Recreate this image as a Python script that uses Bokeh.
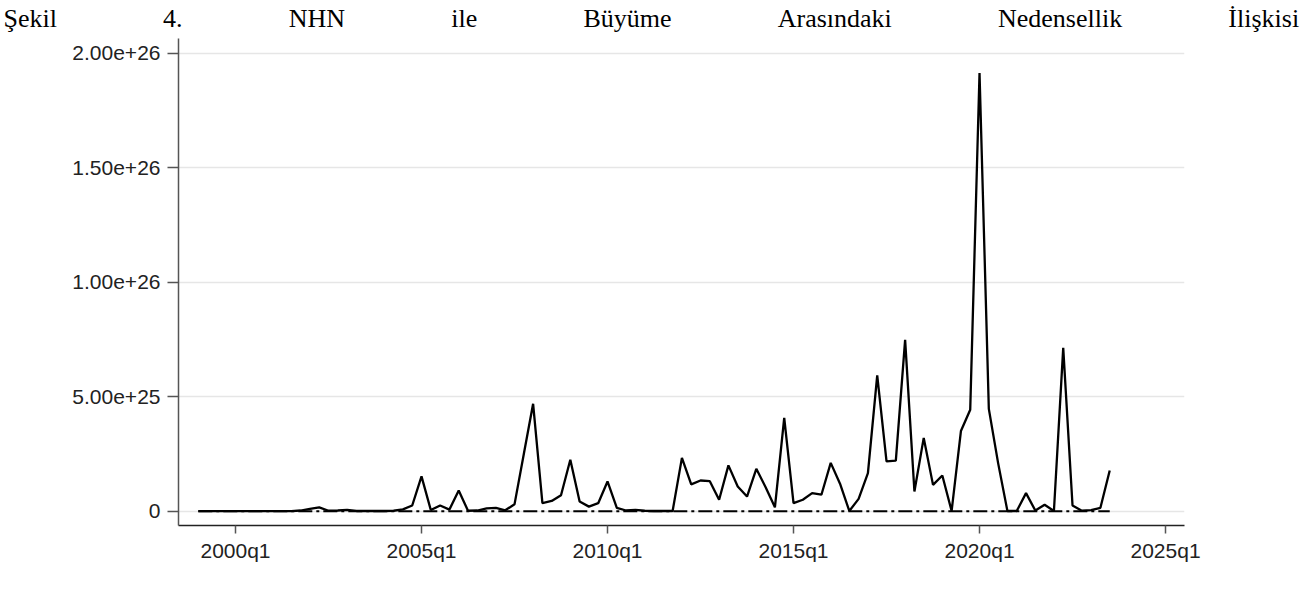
from bokeh.plotting import figure
from bokeh.models import Range1d, FixedTicker, CustomJSTickFormatter, Title
from bokeh.embed import file_html
from bokeh.resources import INLINE

# ---- data -------------------------------------------------------------
start_year, start_q = 1999, 1
# Causality test statistic (in units of 1e25), 1999q1 .. 2023q3
stat_e25 = [
    0.00, 0.00, 0.00, 0.00, 0.00, 0.00, 0.00, 0.00, 0.00, 0.00,
    0.00, 0.03, 0.10, 0.17, 0.02, 0.03, 0.06, 0.01, 0.01, 0.01,
    0.01, 0.02, 0.08, 0.25, 1.52, 0.05, 0.25, 0.07, 0.90, 0.02,
    0.03, 0.12, 0.15, 0.04, 0.30, 2.50, 4.69, 0.35, 0.45, 0.70,
    2.25, 0.42, 0.20, 0.35, 1.30, 0.15, 0.03, 0.06, 0.02, 0.01,
    0.01, 0.01, 2.33, 1.17, 1.34, 1.31, 0.50, 2.00, 1.08, 0.64,
    1.85, 1.05, 0.17, 4.08, 0.35, 0.50, 0.79, 0.72, 2.11, 1.20,
    0.01, 0.54, 1.66, 5.93, 2.18, 2.21, 7.48, 0.86, 3.20, 1.15,
    1.56, 0.01, 3.50, 4.43, 19.13, 4.47, 2.10, 0.01, 0.01, 0.79,
    0.03, 0.28, 0.01, 7.13, 0.25, 0.02, 0.05, 0.15, 1.78,
]
stat = [v * 1e25 for v in stat_e25]
critical = [0.0] * len(stat)
# Stata quarterly index (1960q1 = 0)
qidx = [(start_year - 1960) * 4 + (start_q - 1) + i for i in range(len(stat))]

y_ticks = [0, 5e25, 1e26, 1.5e26, 2e26]
x_ticks = [160, 180, 200, 220, 240, 260]
x_tick_labels = ["2000q1", "2005q1", "2010q1", "2015q1", "2020q1", "2025q1"]

title_words = ["Şekil", "4.", "NHN", "ile", "Büyüme", "Arasındaki", "Nedensellik", "İlişkisi"]

# ---- main plot --------------------------------------------------------
p = figure(width=1304, height=605, output_backend="svg", toolbar_location=None,
           x_range=Range1d(153.87, 262.04), y_range=Range1d(-0.624e25, 2.064e26),
           min_border_left=178, min_border_right=120, min_border_top=38,
           min_border_bottom=80, outline_line_color=None)

p.line(qidx, critical, line_color="black", line_width=2, line_dash="14 4 3 4")
p.line(qidx, stat, line_color="black", line_width=2.3)

p.xgrid.visible = False
p.ygrid.grid_line_color = "#e6e6e6"
p.ygrid.grid_line_width = 1.5

p.yaxis.ticker = FixedTicker(ticks=y_ticks)
p.yaxis.formatter = CustomJSTickFormatter(
    code="return tick == 0 ? '0' : tick.toExponential(2);")
p.xaxis.ticker = FixedTicker(ticks=x_ticks)
p.xaxis.major_label_overrides = {k: v for k, v in zip(x_ticks, x_tick_labels)}

for ax in (p.xaxis[0], p.yaxis[0]):
    ax.minor_tick_line_color = None
    ax.major_tick_in = 0
    ax.major_label_text_font = "Liberation Sans"
    ax.major_label_text_font_size = "21px"
    ax.major_label_text_color = "#222222"
    ax.axis_line_width = 1.5
    ax.major_tick_line_width = 1.5

p.yaxis.axis_line_color = "#555555"
p.yaxis.major_tick_line_color = "#555555"
p.yaxis.major_tick_out = 11
p.yaxis.major_label_standoff = 7
p.xaxis.axis_line_color = "#222222"
p.xaxis.major_tick_line_color = "#555555"
p.xaxis.major_tick_out = 8
p.xaxis.major_label_standoff = 5

# justified caption line above the plot (word gaps made of no-break spaces)
gap = "\u00a0" * 16 + "\u200a"
p.add_layout(Title(text=gap.join(title_words), align="left", offset=-175,
                   vertical_align="top",
                   text_font="Liberation Serif", text_font_size="26px",
                   text_font_style="normal", text_color="black", standoff=7),
             "above")

open("out.html", "w").write(file_html(p, INLINE))
